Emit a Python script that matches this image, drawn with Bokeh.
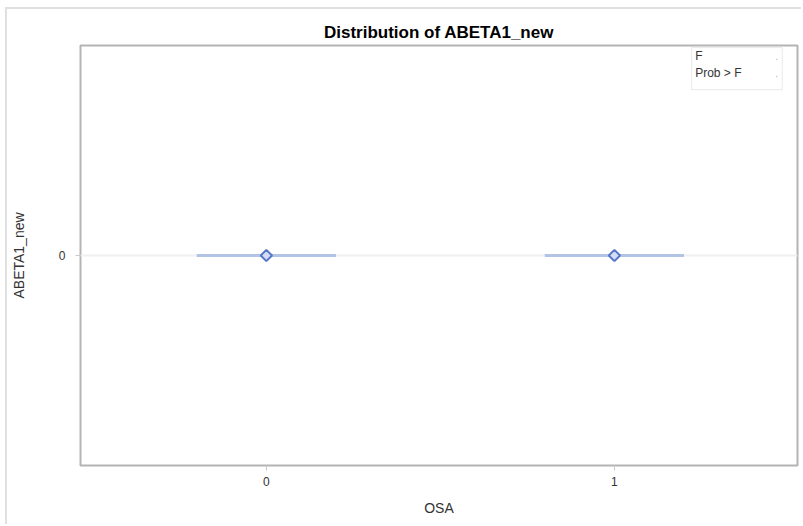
from bokeh.plotting import figure
from bokeh.models import Range1d, FixedTicker, Label, BoxAnnotation, Span
from bokeh.embed import file_html
from bokeh.resources import INLINE

# data
osa = [0, 1]
osa_labels = ["0", "1"]
means = [0, 0]
q1 = [0, 0]
q3 = [0, 0]
stat_names = ["F", "Prob > F"]
stat_values = [".", "."]
y_ticks = [0]

half = 0.2

p = figure(width=796, height=517, output_backend="svg", toolbar_location=None,
           x_range=Range1d(-0.534, 1.526), y_range=Range1d(-1, 1),
           min_border_left=73, min_border_right=6, min_border_top=36, min_border_bottom=61,
           title="Distribution of ABETA1_new")
p.styles = {"margin-left": "5px", "margin-top": "7px",
            "border-left": "2px solid #e0e0e0", "border-top": "2px solid #e0e0e0"}
p.title.align = "center"
p.title.text_font = "Liberation Sans"
p.title.text_font_size = "17px"
p.title.text_font_style = "bold"
p.title.text_color = "#000000"
p.title.standoff = 7

p.grid.visible = False
p.outline_line_color = "#b4b4b4"
p.outline_line_width = 2
p.background_fill_color = "white"
p.border_fill_color = "white"

p.xaxis.ticker = FixedTicker(ticks=osa)
p.xaxis.major_label_overrides = {o: l for o, l in zip(osa, osa_labels)}
p.yaxis.ticker = FixedTicker(ticks=y_ticks)
p.xaxis.minor_tick_line_color = None
p.yaxis.minor_tick_line_color = None
for ax in (p.xaxis, p.yaxis):
    ax.axis_line_color = None
    ax.major_tick_line_color = "#c8c8c8"
    ax.major_tick_in = 0
    ax.major_tick_out = 5
    ax.major_label_text_font = "Liberation Sans"
    ax.major_label_text_font_size = "12px"
    ax.major_label_text_color = "#333333"
    ax.axis_label_text_font = "Liberation Sans"
    ax.axis_label_text_font_size = "14px"
    ax.axis_label_text_font_style = "normal"
    ax.axis_label_text_color = "#333333"
p.xaxis.axis_label = "OSA"
p.yaxis.axis_label = "ABETA1_new"
p.xaxis.major_label_standoff = 6
p.xaxis.axis_label_standoff = 11
p.yaxis.major_label_standoff = 10
p.yaxis.axis_label_standoff = 29

# reference line at 0 (behind the data)
p.add_layout(Span(location=0, dimension="width", line_color="#f0f0f0", line_width=2,
                  level="underlay"))

# box (zero height) segments
x0 = [o - half for o in osa]
x1 = [o + half for o in osa]
p.segment(x0=x0, y0=q1, x1=x1, y1=q3, line_color="#b3c3e6", line_width=3)
p.scatter(osa, means, marker="square", angle=0.785398, size=8, fill_color="#d3ddf3",
          line_color="#5577c6", line_width=2)

# stats inset
p.add_layout(BoxAnnotation(left=1.222, right=1.482, top=0.99, bottom=0.79,
                           fill_color="white", fill_alpha=1, line_color="#b8b8b8", line_width=1))
ys = [0.95, 0.87]
for n, v, yy in zip(stat_names, stat_values, ys):
    p.add_layout(Label(x=1.232, y=yy, text=n, text_font="Liberation Sans", text_font_size="12px",
                       text_color="#333333", text_baseline="middle"))
    p.add_layout(Label(x=1.47, y=yy, text=v, text_font="Liberation Sans", text_font_size="10px",
                       text_color="#aaaaaa", text_baseline="middle", text_align="right"))

open("out.html", "w").write(file_html(p, INLINE))
